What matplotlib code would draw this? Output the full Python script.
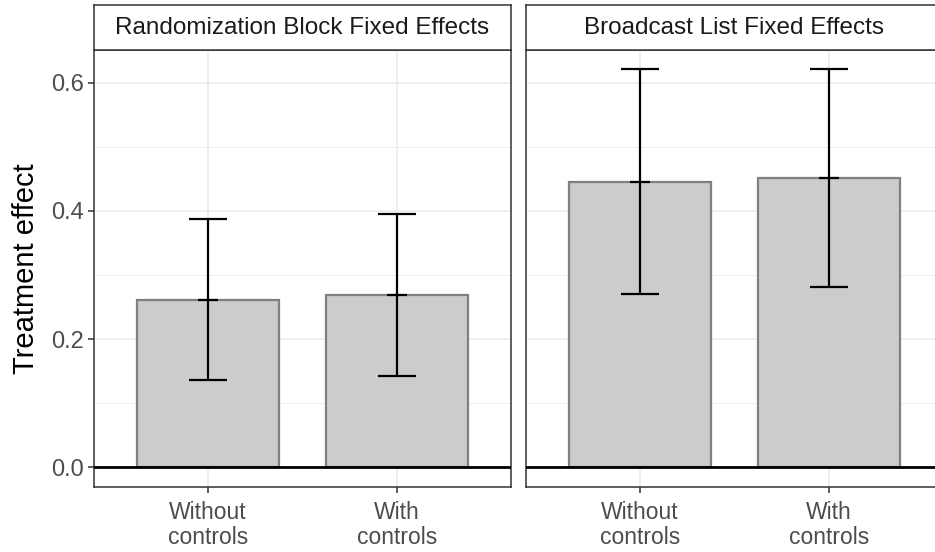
import numpy as np
import matplotlib.pyplot as plt

plt.rcParams["font.family"] = ["Liberation Sans", "DejaVu Sans"]

# datos
paneles = ["Randomization Block Fixed Effects", "Broadcast List Fixed Effects"]
modelos = ["Without\ncontrols", "With\ncontrols"]
estimado = [[0.261, 0.269], [0.4455, 0.451]]
inferior = [[0.136, 0.142], [0.270, 0.281]]
superior = [[0.387, 0.395], [0.621, 0.621]]

fig = plt.figure(figsize=(9.35, 5.52), dpi=100)

W, H = 935, 552
lefts = [94, 526]
ancho = 417
abajo, arriba = 486.7, 50
x = np.arange(1, len(modelos) + 1)

for i, nombre in enumerate(paneles):
    ax = fig.add_axes([lefts[i] / W, (H - abajo) / H, ancho / W, (abajo - arriba) / H])
    ax.set_xlim(0.4, 2.6)
    ax.set_ylim(-0.030, 0.651)

    # grid
    ax.set_yticks([0, 0.2, 0.4, 0.6])
    ax.set_yticks([0.1, 0.3, 0.5], minor=True)
    ax.set_xticks(x)
    ax.grid(which="major", color="#EBEBEB", lw=1.1, zorder=0)
    ax.grid(which="minor", axis="y", color="#EBEBEB", lw=0.55, zorder=0)
    ax.set_axisbelow(True)

    ax.bar(x, estimado[i], width=0.75, color="#CCCCCC", edgecolor="#808080",
           linewidth=1.6, zorder=2)
    est = np.array(estimado[i])
    lo = np.array(inferior[i])
    hi = np.array(superior[i])
    ax.errorbar(x, est, yerr=[est - lo, hi - est], fmt="none", ecolor="black",
                elinewidth=1.6, capsize=13.7, capthick=1.6, zorder=3)
    ax.hlines(est, x - 0.053, x + 0.053, color="black", lw=1.6, zorder=3)
    ax.axhline(0, color="black", lw=2.0, zorder=4)

    for s in ax.spines.values():
        s.set_color("#333333")
        s.set_linewidth(1.1)

    ax.set_xticklabels(modelos, fontsize=16.5, color="#4D4D4D", linespacing=1.15)
    ax.tick_params(axis="x", length=4, width=1.1, color="#333333", pad=6)
    ax.tick_params(axis="y", which="minor", length=0)
    if i == 0:
        ax.set_yticklabels(["0.0", "0.2", "0.4", "0.6"], fontsize=17, color="#4D4D4D")
        ax.tick_params(axis="y", length=4, width=1.1, color="#333333", pad=3)
        ax.set_ylabel("Treatment effect", fontsize=21, color="black", labelpad=8)
    else:
        ax.tick_params(axis="y", length=0, labelleft=False)

    # strip
    st = fig.add_axes([lefts[i] / W, (H - arriba) / H, ancho / W, 45 / H])
    st.set_xticks([])
    st.set_yticks([])
    st.set_facecolor("white")
    for s in st.spines.values():
        s.set_color("#333333")
        s.set_linewidth(1.1)
    st.text(0.5, 0.5, nombre, transform=st.transAxes, ha="center", va="center",
            fontsize=17.5, color="#1A1A1A")

fig.savefig("out.png", dpi=100)
